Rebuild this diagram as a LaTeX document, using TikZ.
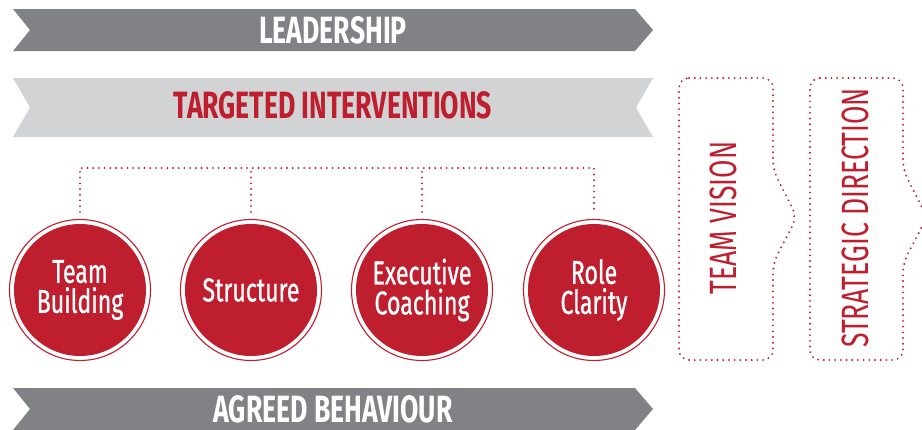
\documentclass[tikz,border=0pt]{standalone}
\usepackage{fontspec}
\setmainfont{Fira Sans}[FakeStretch=0.7]
\definecolor{brandred}{HTML}{BE1E2D}
\definecolor{darkband}{HTML}{808285}
\definecolor{lightband}{HTML}{D1D3D4}
\begin{document}
\begin{tikzpicture}[x=1pt,y=-1pt,
  headtext/.style={font=\fontsize{38}{38}\selectfont\bfseries, inner sep=0pt, anchor=base},
  circnode/.style={circle, fill=brandred, minimum size=132pt, inner sep=0pt, text=white, align=center, font=\fontsize{33}{30}\selectfont\addfontfeature{FakeBold=0.8}},
  ring/.style={draw=brandred, line width=1.1pt},
  dotline/.style={draw=brandred, line width=2.1pt, line cap=round, dash pattern=on 0pt off 5.7pt},
  vtext/.style={rotate=90, text=brandred, font=\fontsize{38}{38}\selectfont, inner sep=0pt}
]
\useasboundingbox (0,0) rectangle (922,429);
\clip (0,0) rectangle (922,429);
% bands
\fill[darkband] (13,9) -- (635,9) -- (653,30) -- (635,51) -- (13,51) -- (30,30) -- cycle;
\node[headtext, text=white] (lead) at (333,43) {LEADERSHIP};
\fill[lightband] (13,78) -- (653,78) -- (636,107.5) -- (653,137) -- (13,137) -- (30,107.5) -- cycle;
\node[headtext, text=brandred] (targ) at (333,118.5) {TARGETED INTERVENTIONS};
\fill[darkband] (13,388) -- (635,388) -- (653,409) -- (635,430) -- (13,430) -- (30,409) -- cycle;
\node[headtext, text=white] (agreed) at (333,422) {AGREED BEHAVIOUR};
% circles
\node[circnode] (tb) at (80,290) {Team\\Building};
\node[circnode] (st) at (251,290) {Structure};
\node[circnode] (ec) at (422,290) {Executive\\Coaching};
\node[circnode] (rc) at (594,290) {Role\\Clarity};
\foreach \n in {tb,st,ec,rc} \draw[ring] (\n.center) circle[radius=70.5];
% dotted bus
\coordinate (b1) at (80,168);
\coordinate (b4) at (594,168);
\draw[dotline] ([yshift=12pt]tb.north) -- (b1) -- (b4) -- ([yshift=12pt]rc.north);
\draw[dotline] ([yshift=12pt]st.north) -- (st.north |- b1);
\draw[dotline] ([yshift=12pt]ec.north) -- (ec.north |- b1);
% chevron boxes
\draw[dotline, rounded corners=10pt] (679,78) -- (773,78) -- (773,170) -- (797,217) -- (773,263) -- (773,360) -- (679,360) -- cycle;
\node[vtext] (tv) at (723,218) {TEAM VISION};
\draw[dotline, rounded corners=10pt] (810,78) -- (903,78) -- (903,170) -- (927,217) -- (903,263) -- (903,360) -- (810,360) -- cycle;
\node[vtext] (sd) at (855,218) {STRATEGIC DIRECTION};
\end{tikzpicture}
\end{document}
